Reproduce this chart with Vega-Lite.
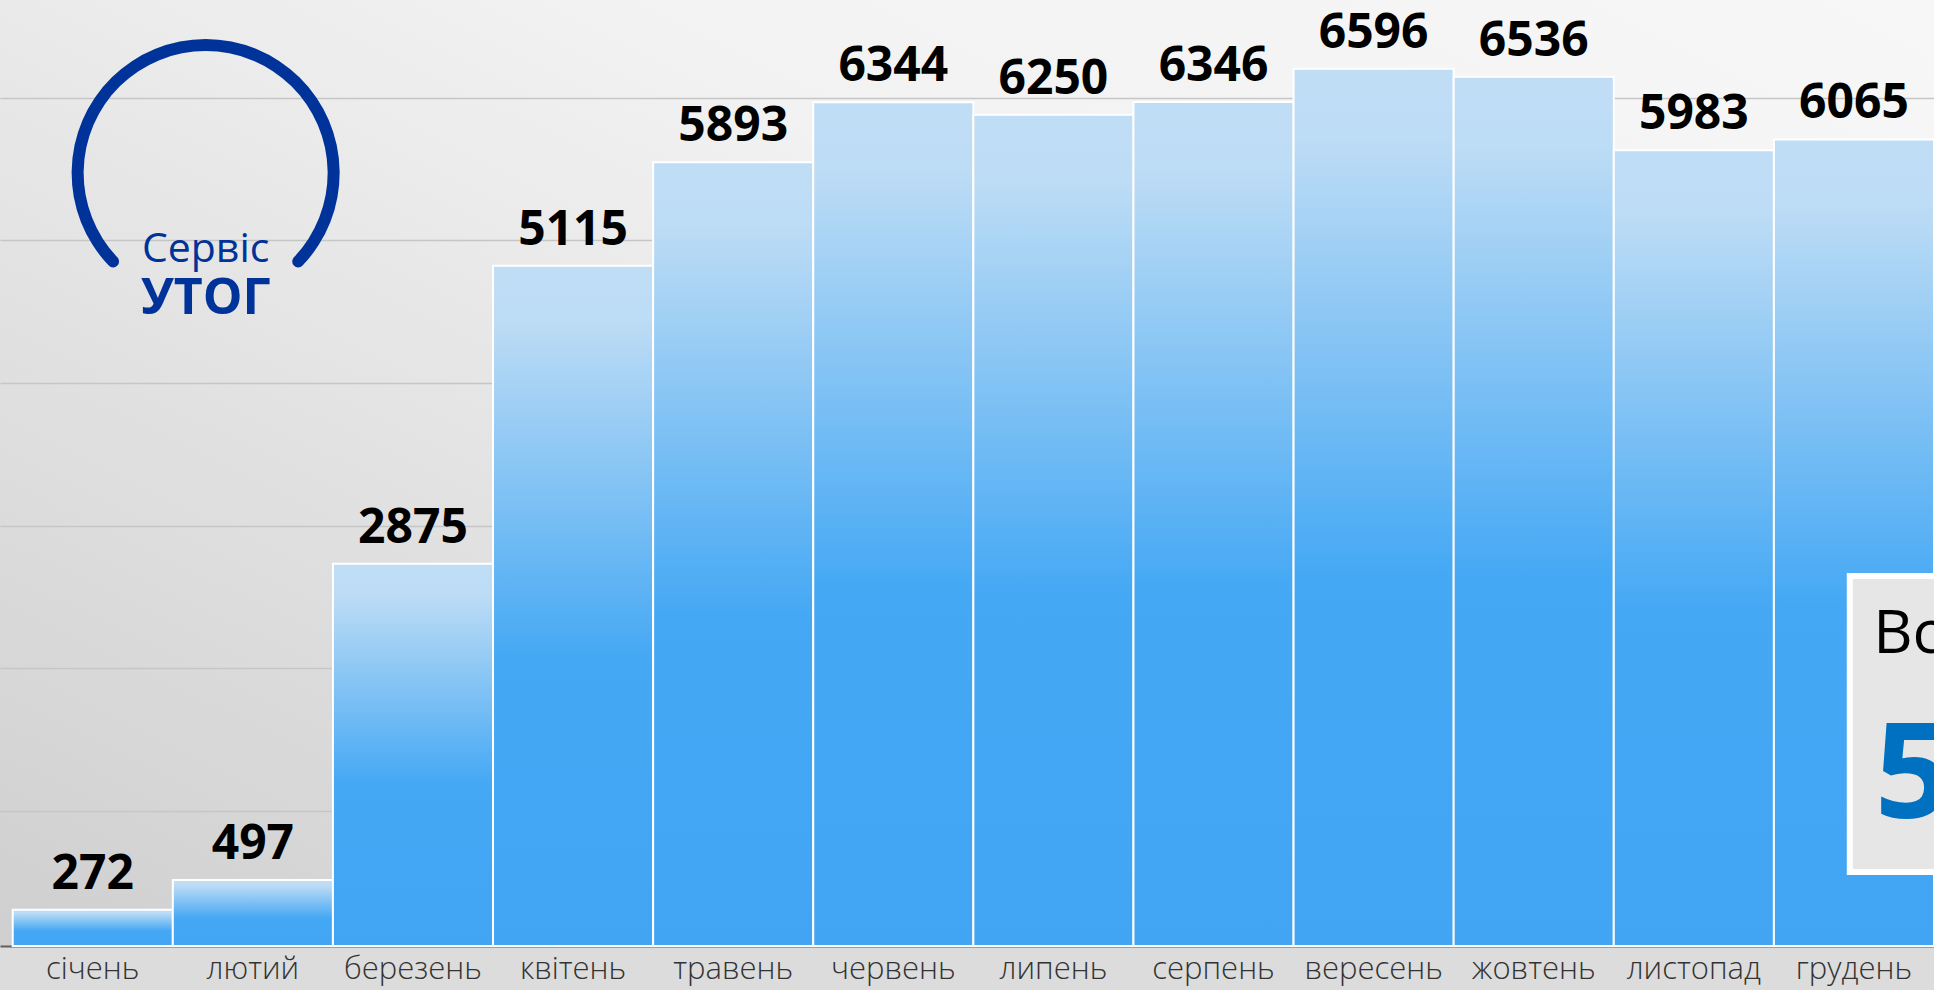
{
  "$schema": "https://vega.github.io/schema/vega-lite/v6.json",
  "width": 1934,
  "height": 946,
  "autosize": "none",
  "padding": {"left": 0, "top": 0, "right": 0, "bottom": 44},
  "background": "#dcdcdc",
  "config": {
    "view": {
      "stroke": null,
      "fill": {
        "gradient": "linear",
        "x1": 1, "y1": 0, "x2": 0, "y2": 1,
        "stops": [
          {"offset": 0, "color": "#f7f7f7"},
          {"offset": 0.35, "color": "#f2f2f2"},
          {"offset": 1, "color": "#cfcfcf"}
        ]
      }
    }
  },
  "layer": [
    {
      "data": {"values": [
        {"month": "січень", "value": 272},
        {"month": "лютий", "value": 497},
        {"month": "березень", "value": 2875},
        {"month": "квітень", "value": 5115},
        {"month": "травень", "value": 5893},
        {"month": "червень", "value": 6344},
        {"month": "липень", "value": 6250},
        {"month": "серпень", "value": 6346},
        {"month": "вересень", "value": 6596},
        {"month": "жовтень", "value": 6536},
        {"month": "листопад", "value": 5983},
        {"month": "грудень", "value": 6065}
      ]},
      "layer": [
        {
          "mark": {
            "type": "bar",
            "stroke": "white",
            "strokeWidth": 2,
            "color": {
              "gradient": "linear",
              "x1": 0, "y1": 0, "x2": 0, "y2": 1,
              "stops": [
                {"offset": 0, "color": "#c0ddf5"},
                {"offset": 0.08, "color": "#bddcf5"},
                {"offset": 0.58, "color": "#44a8f4"},
                {"offset": 1, "color": "#41a5f4"}
              ]
            }
          },
          "encoding": {
            "x": {
              "field": "month", "type": "nominal", "sort": null,
              "scale": {
                "domain": ["січень", "лютий", "березень", "квітень", "травень", "червень", "липень", "серпень", "вересень", "жовтень", "листопад", "грудень"],
                "paddingInner": 0, "paddingOuter": 0.0397, "align": 1
              },
              "axis": {
                "title": null, "labelAngle": 0, "ticks": false,
                "domainColor": "#5f5f5f", "domainWidth": 2,
                "labelFontSize": 31, "labelFont": "Open Sans", "labelFontWeight": 300,
                "labelColor": "#333333", "labelPadding": 8, "grid": false
              }
            },
            "y": {
              "field": "value", "type": "quantitative",
              "scale": {"domain": [0, 7113], "nice": false, "zero": true},
              "axis": {
                "title": null, "labels": false, "ticks": false, "domain": false,
                "values": [1018, 2090, 3159, 4232, 5305, 6377],
                "grid": true, "gridColor": "#c6c6c6", "gridWidth": 1.5
              }
            }
          }
        },
        {
          "mark": {
            "type": "text", "baseline": "alphabetic", "dy": -21,
            "font": "Liberation Sans Narrow, Open Sans", "fontWeight": "bold",
            "fontSize": 48, "color": "#000000"
          },
          "encoding": {
            "x": {"field": "month", "type": "nominal", "sort": null},
            "y": {"field": "value", "type": "quantitative"},
            "text": {"field": "value", "type": "quantitative", "format": "d"}
          }
        }
      ]
    },
    {
      "data": {"values": [{"anchor": "лютий", "level": 5812}]},
      "mark": {
        "type": "arc", "theta": -2.38, "theta2": 2.38,
        "radius": 134, "radius2": 122, "cornerRadius": 6,
        "color": "#003399"
      },
      "encoding": {
        "x": {"field": "anchor", "type": "nominal", "bandPosition": 0.205},
        "y": {"field": "level", "type": "quantitative"}
      }
    },
    {
      "data": {"values": [
        {"anchor": "лютий", "level": 5140, "label": "Сервіс", "kind": "a"},
        {"anchor": "лютий", "level": 4752, "label": "УТОГ", "kind": "b"}
      ]},
      "layer": [
        {
          "transform": [{"filter": "datum.kind === 'a'"}],
          "mark": {"type": "text", "baseline": "alphabetic", "font": "Open Sans", "fontSize": 41, "color": "#003399"},
          "encoding": {
            "x": {"field": "anchor", "type": "nominal", "bandPosition": 0.205},
            "y": {"field": "level", "type": "quantitative"},
            "text": {"field": "label"}
          }
        },
        {
          "transform": [{"filter": "datum.kind === 'b'"}],
          "mark": {"type": "text", "baseline": "alphabetic", "font": "Open Sans", "fontWeight": "bold", "fontSize": 50, "color": "#003399"},
          "encoding": {
            "x": {"field": "anchor", "type": "nominal", "bandPosition": 0.205},
            "y": {"field": "level", "type": "quantitative"},
            "text": {"field": "label"}
          }
        }
      ]
    },
    {
      "data": {"values": [{"anchor": "грудень", "top": 2782, "bottom": 556}]},
      "mark": {"type": "rect", "fill": "#e6e6e6", "stroke": "#ffffff", "strokeWidth": 6, "clip": false},
      "encoding": {
        "x": {"field": "anchor", "type": "nominal", "bandPosition": 0.474},
        "x2": {"field": "anchor", "bandPosition": 1.8},
        "y": {"field": "top", "type": "quantitative"},
        "y2": {"field": "bottom"}
      }
    },
    {
      "data": {"values": [
        {"anchor": "грудень", "level": 2203, "label": "Всього", "kind": "a"},
        {"anchor": "грудень", "level": 962, "label": "58772", "kind": "b"}
      ]},
      "layer": [
        {
          "transform": [{"filter": "datum.kind === 'a'"}],
          "mark": {"type": "text", "align": "left", "baseline": "alphabetic", "font": "Open Sans", "fontSize": 61, "color": "#000000"},
          "encoding": {
            "x": {"field": "anchor", "type": "nominal", "bandPosition": 0.62},
            "y": {"field": "level", "type": "quantitative"},
            "text": {"field": "label"}
          }
        },
        {
          "transform": [{"filter": "datum.kind === 'b'"}],
          "mark": {"type": "text", "align": "left", "baseline": "alphabetic", "font": "Open Sans", "fontWeight": "bold", "fontSize": 132, "color": "#0070c0"},
          "encoding": {
            "x": {"field": "anchor", "type": "nominal", "bandPosition": 0.63},
            "y": {"field": "level", "type": "quantitative"},
            "text": {"field": "label"}
          }
        }
      ]
    }
  ]
}
